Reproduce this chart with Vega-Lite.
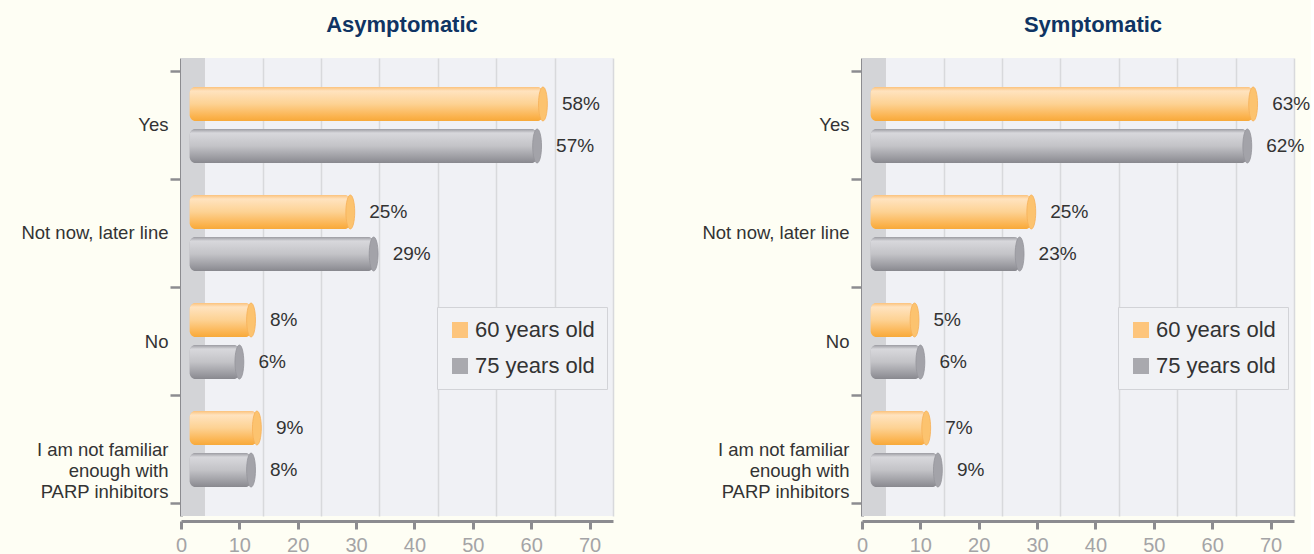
{
  "$schema": "https://vega.github.io/schema/vega-lite/v6.json",
  "padding": {"left": 0, "top": 14, "right": 0, "bottom": 0},
  "background": "#fefef4",
  "data": {"values": [
    {"panel": "Asymptomatic", "answer": "Yes", "group": "60 years old", "value": 58},
    {"panel": "Asymptomatic", "answer": "Yes", "group": "75 years old", "value": 57},
    {"panel": "Asymptomatic", "answer": "Not now, later line", "group": "60 years old", "value": 25},
    {"panel": "Asymptomatic", "answer": "Not now, later line", "group": "75 years old", "value": 29},
    {"panel": "Asymptomatic", "answer": "No", "group": "60 years old", "value": 8},
    {"panel": "Asymptomatic", "answer": "No", "group": "75 years old", "value": 6},
    {"panel": "Asymptomatic", "answer": "I am not familiar enough with PARP inhibitors", "group": "60 years old", "value": 9},
    {"panel": "Asymptomatic", "answer": "I am not familiar enough with PARP inhibitors", "group": "75 years old", "value": 8},
    {"panel": "Symptomatic", "answer": "Yes", "group": "60 years old", "value": 63},
    {"panel": "Symptomatic", "answer": "Yes", "group": "75 years old", "value": 62},
    {"panel": "Symptomatic", "answer": "Not now, later line", "group": "60 years old", "value": 25},
    {"panel": "Symptomatic", "answer": "Not now, later line", "group": "75 years old", "value": 23},
    {"panel": "Symptomatic", "answer": "No", "group": "60 years old", "value": 5},
    {"panel": "Symptomatic", "answer": "No", "group": "75 years old", "value": 6},
    {"panel": "Symptomatic", "answer": "I am not familiar enough with PARP inhibitors", "group": "60 years old", "value": 7},
    {"panel": "Symptomatic", "answer": "I am not familiar enough with PARP inhibitors", "group": "75 years old", "value": 9}
  ]},
  "spacing": 68,
  "resolve": {"scale": {"color": "independent"}, "legend": {"color": "independent"}},
  "hconcat": [
    {
      "width": 432, "height": 458,
      "title": {"text": "Asymptomatic", "dx": 5},
      "transform": [{"filter": "datum.panel == 'Asymptomatic'"}, {"calculate": "datum.value + '%'", "as": "label"}],
      "resolve": {"axis": {"x": "independent"}},
      "layer": [
        {
          "mark": {"type": "rect", "color": "#d3d4d7"},
          "encoding": {
            "x": {"datum": -4, "type": "quantitative", "scale": {"domain": [-4, 70], "nice": false, "zero": false},
                  "axis": {"orient": "bottom", "grid": true, "labels": false, "ticks": false, "domain": false, "title": null, "values": [10, 20, 30, 40, 50, 60, 70], "gridColor": "#d8d9dc", "gridWidth": 1.5}},
            "x2": {"datum": 0}
          }
        },
        {
          "mark": {"type": "bar", "cornerRadius": 6},
          "encoding": {
            "y": {"field": "answer", "type": "nominal", "sort": null, "scale": {"paddingInner": 0, "paddingOuter": 0.12},
                  "axis": {"title": null, "orient": "left", "tickBand": "extent", "tickSize": 11, "tickWidth": 2.5, "tickColor": "#8c8c90", "domainColor": "#8c8c90", "domainWidth": 3, "labelFontSize": 18.5, "labelColor": "#333333", "labelPadding": 2, "labelLineHeight": 21, "labelLimit": 300, "minExtent": 181, "maxExtent": 181,
                           "labelExpr": "datum.label == 'I am not familiar enough with PARP inhibitors' ? ['I am not familiar', 'enough with', 'PARP inhibitors'] : datum.label"}},
            "yOffset": {"field": "group", "type": "nominal", "scale": {"paddingInner": 0.19, "paddingOuter": 0.38}},
            "x": {"field": "value", "type": "quantitative", "scale": {"domain": [-4, 70], "nice": false, "zero": false}, "axis": null},
            "x2": {"datum": -2.5},
            "color": {"field": "group", "type": "nominal",
              "scale": {"domain": ["60 years old", "75 years old"], "range": ["#fdc57c", "#a9a9ae"]},
              "legend": {"orient": "none", "legendX": 256, "legendY": 249, "title": null, "fillColor": "#f1f2f5", "strokeColor": "#d2d3d7", "padding": 12, "labelFontSize": 22, "labelColor": "#333333", "symbolType": "square", "symbolSize": 256, "rowPadding": 14, "labelOffset": 4, "symbolStrokeWidth": 0}}
          }
        },
        {
          "mark": {"type": "bar", "cornerRadius": 6},
          "encoding": {
            "y": {"field": "answer", "type": "nominal", "sort": null},
            "yOffset": {"field": "group", "type": "nominal"},
            "x": {"field": "value", "type": "quantitative", "scale": {"domain": [-4, 70], "nice": false, "zero": false}, "axis": null},
            "x2": {"datum": -2.5},
            "fill": {"condition": {"test": "datum.group == '60 years old'", "value": {"gradient": "linear", "x1": 0, "y1": 0, "x2": 0, "y2": 1, "stops": [{"offset": 0, "color": "#fbc27c"}, {"offset": 0.12, "color": "#ffe3bf"}, {"offset": 0.5, "color": "#fdd293"}, {"offset": 0.88, "color": "#fbb24c"}, {"offset": 1, "color": "#f7a93a"}]}},
                     "value": {"gradient": "linear", "x1": 0, "y1": 0, "x2": 0, "y2": 1, "stops": [{"offset": 0, "color": "#9c9ca2"}, {"offset": 0.12, "color": "#d8d8dc"}, {"offset": 0.5, "color": "#c3c3c7"}, {"offset": 0.88, "color": "#97979d"}, {"offset": 1, "color": "#88888e"}]}}
          }
        },
        {
          "mark": {"type": "point", "filled": true, "opacity": 1, "size": 1156, "shape": "M0,-1 A0.26,1 0 1,1 0,1 A0.26,1 0 1,1 0,-1 Z", "strokeWidth": 0.8},
          "encoding": {
            "y": {"field": "answer", "type": "nominal", "sort": null},
            "yOffset": {"field": "group", "type": "nominal"},
            "x": {"field": "value", "type": "quantitative", "scale": {"domain": [-4, 70], "nice": false, "zero": false}, "axis": null},
            "fill": {"condition": {"test": "datum.group == '60 years old'", "value": "#fcc36f"}, "value": "#a3a3a9"},
            "stroke": {"condition": {"test": "datum.group == '60 years old'", "value": "#f6b057"}, "value": "#94949a"}
          }
        },
        {
          "mark": {"type": "text", "align": "left", "baseline": "middle", "dx": 19, "fontSize": 19, "color": "#333333"},
          "encoding": {
            "y": {"field": "answer", "type": "nominal", "sort": null},
            "yOffset": {"field": "group", "type": "nominal"},
            "x": {"field": "value", "type": "quantitative", "scale": {"domain": [-4, 70], "nice": false, "zero": false},
                  "axis": {"orient": "bottom", "grid": false, "title": null, "values": [0, 10, 20, 30, 40, 50, 60, 70], "tickOffset": -23.4, "offset": 5, "domainColor": "#8c8c90", "domainWidth": 3, "tickColor": "#8c8c90", "tickWidth": 3, "tickSize": 8, "labelFontSize": 20, "labelColor": "#a4a4a6", "labelPadding": 6, "labelFlush": false}},
            "text": {"field": "label"}
          }
        }
      ]
    },
    {
      "width": 432, "height": 458,
      "title": {"text": "Symptomatic", "dx": 15},
      "transform": [{"filter": "datum.panel == 'Symptomatic'"}, {"calculate": "datum.value + '%'", "as": "label"}],
      "resolve": {"axis": {"x": "independent"}},
      "layer": [
        {
          "mark": {"type": "rect", "color": "#d3d4d7"},
          "encoding": {
            "x": {"datum": -4, "type": "quantitative", "scale": {"domain": [-4, 70], "nice": false, "zero": false},
                  "axis": {"orient": "bottom", "grid": true, "labels": false, "ticks": false, "domain": false, "title": null, "values": [10, 20, 30, 40, 50, 60, 70], "gridColor": "#d8d9dc", "gridWidth": 1.5}},
            "x2": {"datum": 0}
          }
        },
        {
          "mark": {"type": "bar", "cornerRadius": 6},
          "encoding": {
            "y": {"field": "answer", "type": "nominal", "sort": null, "scale": {"paddingInner": 0, "paddingOuter": 0.12},
                  "axis": {"title": null, "orient": "left", "tickBand": "extent", "tickSize": 11, "tickWidth": 2.5, "tickColor": "#8c8c90", "domainColor": "#8c8c90", "domainWidth": 3, "labelFontSize": 18.5, "labelColor": "#333333", "labelPadding": 2, "labelLineHeight": 21, "labelLimit": 300, "minExtent": 181, "maxExtent": 181,
                           "labelExpr": "datum.label == 'I am not familiar enough with PARP inhibitors' ? ['I am not familiar', 'enough with', 'PARP inhibitors'] : datum.label"}},
            "yOffset": {"field": "group", "type": "nominal", "scale": {"paddingInner": 0.19, "paddingOuter": 0.38}},
            "x": {"field": "value", "type": "quantitative", "scale": {"domain": [-4, 70], "nice": false, "zero": false}, "axis": null},
            "x2": {"datum": -2.5},
            "color": {"field": "group", "type": "nominal",
              "scale": {"domain": ["60 years old", "75 years old"], "range": ["#fdc57c", "#a9a9ae"]},
              "legend": {"orient": "none", "legendX": 256, "legendY": 249, "title": null, "fillColor": "#f1f2f5", "strokeColor": "#d2d3d7", "padding": 12, "labelFontSize": 22, "labelColor": "#333333", "symbolType": "square", "symbolSize": 256, "rowPadding": 14, "labelOffset": 4, "symbolStrokeWidth": 0}}
          }
        },
        {
          "mark": {"type": "bar", "cornerRadius": 6},
          "encoding": {
            "y": {"field": "answer", "type": "nominal", "sort": null},
            "yOffset": {"field": "group", "type": "nominal"},
            "x": {"field": "value", "type": "quantitative", "scale": {"domain": [-4, 70], "nice": false, "zero": false}, "axis": null},
            "x2": {"datum": -2.5},
            "fill": {"condition": {"test": "datum.group == '60 years old'", "value": {"gradient": "linear", "x1": 0, "y1": 0, "x2": 0, "y2": 1, "stops": [{"offset": 0, "color": "#fbc27c"}, {"offset": 0.12, "color": "#ffe3bf"}, {"offset": 0.5, "color": "#fdd293"}, {"offset": 0.88, "color": "#fbb24c"}, {"offset": 1, "color": "#f7a93a"}]}},
                     "value": {"gradient": "linear", "x1": 0, "y1": 0, "x2": 0, "y2": 1, "stops": [{"offset": 0, "color": "#9c9ca2"}, {"offset": 0.12, "color": "#d8d8dc"}, {"offset": 0.5, "color": "#c3c3c7"}, {"offset": 0.88, "color": "#97979d"}, {"offset": 1, "color": "#88888e"}]}}
          }
        },
        {
          "mark": {"type": "point", "filled": true, "opacity": 1, "size": 1156, "shape": "M0,-1 A0.26,1 0 1,1 0,1 A0.26,1 0 1,1 0,-1 Z", "strokeWidth": 0.8},
          "encoding": {
            "y": {"field": "answer", "type": "nominal", "sort": null},
            "yOffset": {"field": "group", "type": "nominal"},
            "x": {"field": "value", "type": "quantitative", "scale": {"domain": [-4, 70], "nice": false, "zero": false}, "axis": null},
            "fill": {"condition": {"test": "datum.group == '60 years old'", "value": "#fcc36f"}, "value": "#a3a3a9"},
            "stroke": {"condition": {"test": "datum.group == '60 years old'", "value": "#f6b057"}, "value": "#94949a"}
          }
        },
        {
          "mark": {"type": "text", "align": "left", "baseline": "middle", "dx": 19, "fontSize": 19, "color": "#333333"},
          "encoding": {
            "y": {"field": "answer", "type": "nominal", "sort": null},
            "yOffset": {"field": "group", "type": "nominal"},
            "x": {"field": "value", "type": "quantitative", "scale": {"domain": [-4, 70], "nice": false, "zero": false},
                  "axis": {"orient": "bottom", "grid": false, "title": null, "values": [0, 10, 20, 30, 40, 50, 60, 70], "tickOffset": -23.4, "offset": 5, "domainColor": "#8c8c90", "domainWidth": 3, "tickColor": "#8c8c90", "tickWidth": 3, "tickSize": 8, "labelFontSize": 20, "labelColor": "#a4a4a6", "labelPadding": 6, "labelFlush": false}},
            "text": {"field": "label"}
          }
        }
      ]
    }
  ],
  "config": {
    "font": "Liberation Sans",
    "view": {"stroke": null, "fill": "#f0f1f5"},
    "title": {"font": "Liberation Sans", "fontSize": 22, "fontWeight": "bold", "color": "#0f3463", "anchor": "middle", "frame": "group", "offset": 12},
    "axis": {"labelFont": "Liberation Sans"},
    "legend": {"labelFont": "Liberation Sans"}
  }
}
